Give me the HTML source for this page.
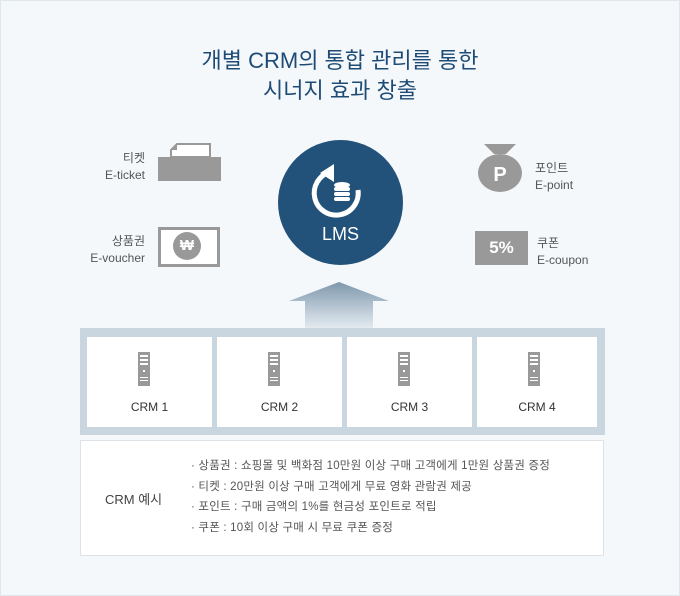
<!DOCTYPE html>
<html><head><meta charset="utf-8"><style>
body{margin:0;width:680px;height:596px;background:#f4f8fb;font-family:"Liberation Sans","Noto Sans CJK KR",sans-serif;position:relative;overflow:hidden}
.a{position:absolute}
.t{position:absolute;left:0;width:680px;text-align:center;color:#1e4b75;font-size:22px;line-height:30px}
.lbl{position:absolute;font-size:12px;color:#555;line-height:17px}
.box{position:absolute;top:337px;height:90px;background:#fff;text-align:center;font-size:12px;color:#333}
.box span{position:absolute;left:0;right:0;top:63px}
</style></head><body>
<div class="a" style="left:0;top:0;width:678px;height:594px;border:1px solid #e1e6ea"></div>
<div class="t" style="top:46px">개별 CRM의 통합 관리를 통한</div>
<div class="t" style="top:76px">시너지 효과 창출</div>

<div class="lbl" style="left:100px;top:150px;width:45px;text-align:right">티켓<br>E-ticket</div>
<svg class="a" style="left:158px;top:143px" width="64" height="40"><polygon points="19,1 52,1 52,14 13,14 13,7" fill="#fff" stroke="#999" stroke-width="2"/><polygon points="19,1 13,7 19,7" fill="#999"/><rect x="0" y="14" width="63" height="24" fill="#999"/></svg>
<div class="lbl" style="left:80px;top:233px;width:65px;text-align:right">상품권<br>E-voucher</div>
<div class="a" style="left:158px;top:227px;width:56px;height:34px;border:3px solid #999;background:#fff"></div>
<div class="a" style="left:173px;top:232px;width:28px;height:28px;border-radius:50%;background:#999;color:#fff;font-size:15px;font-weight:bold;text-align:center;line-height:28px">₩</div>

<div class="a" style="left:278px;top:140px;width:125px;height:125px;border-radius:50%;background:#22527a"></div>
<svg class="a" style="left:310px;top:158px" width="64" height="64"><path d="M48 32 A22 22 0 1 1 20 14" fill="none" stroke="#fff" stroke-width="5"/><polygon points="10,15 24,6 24,24" fill="#fff"/><ellipse cx="32" cy="27" rx="8" ry="3" fill="#fff"/><rect x="24" y="29" width="16" height="4" rx="2" fill="#fff"/><rect x="24" y="34" width="16" height="4" rx="2" fill="#fff"/><rect x="24" y="39" width="16" height="4" rx="2" fill="#fff"/></svg>
<div class="a" style="left:278px;top:224px;width:125px;text-align:center;color:#fff;font-size:18px">LMS</div>

<svg class="a" style="left:476px;top:144px" width="50" height="50"><polygon points="8,0 40,0 30,10 18,10" fill="#999"/><ellipse cx="24" cy="29" rx="22" ry="19" fill="#999"/><text x="24" y="37" font-size="20" font-weight="bold" fill="#fff" text-anchor="middle" font-family="Liberation Sans">P</text></svg>
<div class="lbl" style="left:535px;top:160px">포인트<br>E-point</div>
<div class="a" style="left:475px;top:231px;width:53px;height:34px;background:#999;color:#fff;font-weight:bold;font-size:17px;text-align:center;line-height:34px">5%</div>
<div class="lbl" style="left:537px;top:235px">쿠폰<br>E-coupon</div>

<svg class="a" style="left:289px;top:282px" width="100" height="48"><defs><linearGradient id="g" x1="0" y1="0" x2="0" y2="1"><stop offset="0" stop-color="#7f98ad"/><stop offset="1" stop-color="#e8eef3"/></linearGradient></defs><polygon points="50,0 100,19 84,19 84,48 16,48 16,19 0,19" fill="url(#g)"/></svg>

<div class="a" style="left:80px;top:328px;width:525px;height:107px;background:#c9d6df"></div>
<div class="box" style="left:87px;width:125px"><span>CRM 1</span></div>
<div class="box" style="left:217px;width:125px"><span>CRM 2</span></div>
<div class="box" style="left:347px;width:125px"><span>CRM 3</span></div>
<div class="box" style="left:477px;width:120px"><span>CRM 4</span></div>
<svg class="a" style="left:0;top:0" width="680" height="400">
<g fill="#999"><rect x="138" y="352" width="12" height="34"/><rect x="268" y="352" width="12" height="34"/><rect x="398" y="352" width="12" height="34"/><rect x="528" y="352" width="12" height="34"/></g>
<g fill="#fff"><rect x="140" y="355" width="8" height="2"/><rect x="140" y="359" width="8" height="2"/><rect x="140" y="363" width="8" height="2"/><rect x="143" y="370" width="2" height="2"/><rect x="140" y="377" width="8" height="1"/><rect x="140" y="380" width="8" height="1"/>
<rect x="270" y="355" width="8" height="2"/><rect x="270" y="359" width="8" height="2"/><rect x="270" y="363" width="8" height="2"/><rect x="273" y="370" width="2" height="2"/><rect x="270" y="377" width="8" height="1"/><rect x="270" y="380" width="8" height="1"/>
<rect x="400" y="355" width="8" height="2"/><rect x="400" y="359" width="8" height="2"/><rect x="400" y="363" width="8" height="2"/><rect x="403" y="370" width="2" height="2"/><rect x="400" y="377" width="8" height="1"/><rect x="400" y="380" width="8" height="1"/>
<rect x="530" y="355" width="8" height="2"/><rect x="530" y="359" width="8" height="2"/><rect x="530" y="363" width="8" height="2"/><rect x="533" y="370" width="2" height="2"/><rect x="530" y="377" width="8" height="1"/><rect x="530" y="380" width="8" height="1"/></g>
</svg>

<div class="a" style="left:80px;top:440px;width:522px;height:114px;background:#fff;border:1px solid #dde2e6"></div>
<div class="a" style="left:105px;top:489px;font-size:13px;color:#444">CRM 예시</div>
<div class="a" style="left:191px;top:456px;font-size:11.5px;color:#555;line-height:20.5px;letter-spacing:0.2px">· 상품권 : 쇼핑몰 및 백화점 10만원 이상 구매 고객에게 1만원 상품권 증정<br>· 티켓 : 20만원 이상 구매 고객에게 무료 영화 관람권 제공<br>· 포인트 : 구매 금액의 1%를 현금성 포인트로 적립<br>· 쿠폰 : 10회 이상 구매 시 무료 쿠폰 증정</div>
</body></html>
